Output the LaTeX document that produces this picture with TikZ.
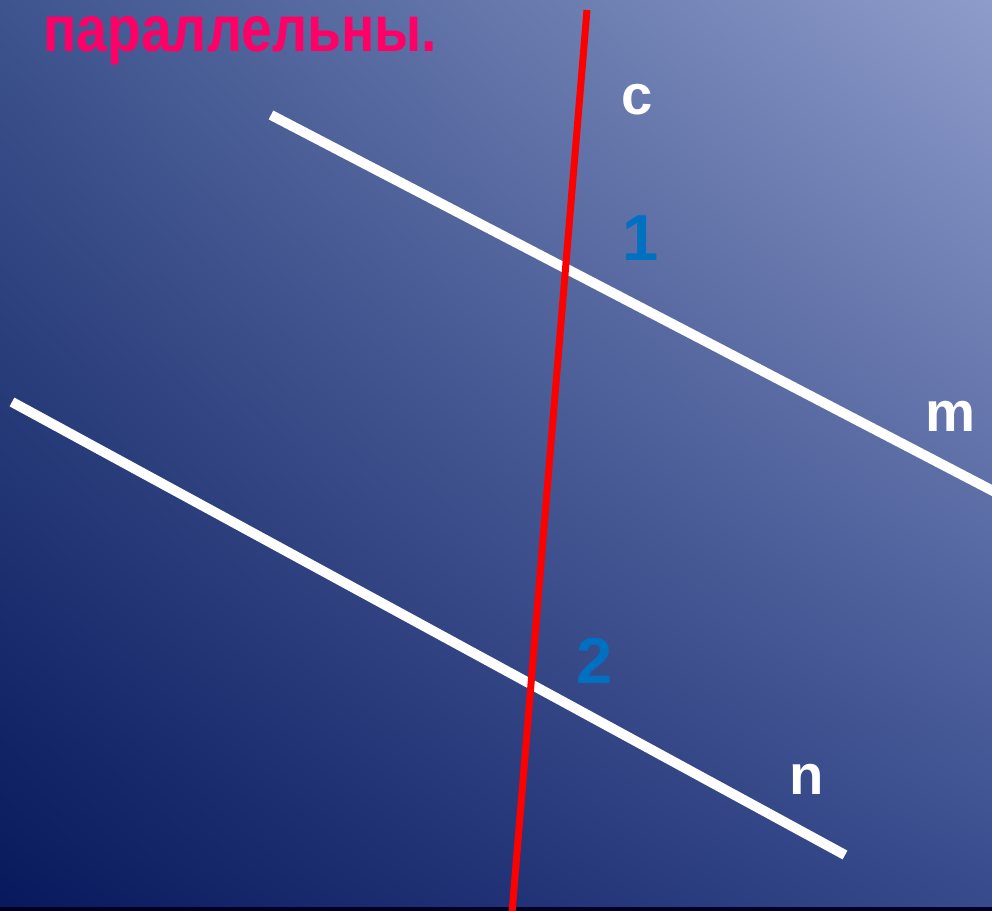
\documentclass[tikz,border=0pt]{standalone}
\usepackage{fontspec}
\setmainfont{Liberation Sans}
\usepackage{xcolor}
\usetikzlibrary{arrows.meta,shadings}
\definecolor{bgtl}{RGB}{62,84,142}
\definecolor{bgtr}{RGB}{142,156,202}
\definecolor{bgbl}{RGB}{8,24,92}
\definecolor{bgbr}{RGB}{54,74,140}
\definecolor{titlepink}{RGB}{255,0,102}
\definecolor{anglblue}{RGB}{0,112,192}
\tikzset{lbl/.style={anchor=base west,inner sep=0pt,text=white,font=\bfseries\fontsize{32}{36}\selectfont},
num/.style={anchor=base west,inner sep=0pt,text=anglblue,font=\bfseries\fontsize{37}{40}\selectfont}}
\begin{document}
\begin{tikzpicture}[x=0.02cm,y=-0.02cm,>=stealth]
\shade[upper left=bgtl,upper right=bgtr,lower left=bgbl,lower right=bgbr](0,0)rectangle(992,911);
\fill[black!85!blue](0,907)rectangle(992,911);
\useasboundingbox(0,0)rectangle(992,911);
\node(title)[anchor=base west,inner sep=0pt,text=titlepink,font=\bfseries\fontsize{37}{40}\selectfont]at(43,52){\scalebox{0.85}[1]{параллельны.}};
\coordinate(m1)at(271,115);\coordinate(m2)at(995,492);
\coordinate(n1)at(12,402);\coordinate(n2)at(845,855);
\coordinate(c1)at(587,10);\coordinate(c2)at(512,913);
\draw[white,line width=10*0.02cm](m1)--(m2);
\draw[white,line width=10*0.02cm](n1)--(n2);
\draw[red,line width=7*0.02cm](c1)--(c2);
\node(c)[lbl]at(621,115){c};
\node(m)[lbl]at(925,432){m};
\node(n)[lbl]at(789,795){n};
\node(one)[num]at(622,261){1};
\node(two)[num]at(576,684){2};
\end{tikzpicture}
\end{document}
